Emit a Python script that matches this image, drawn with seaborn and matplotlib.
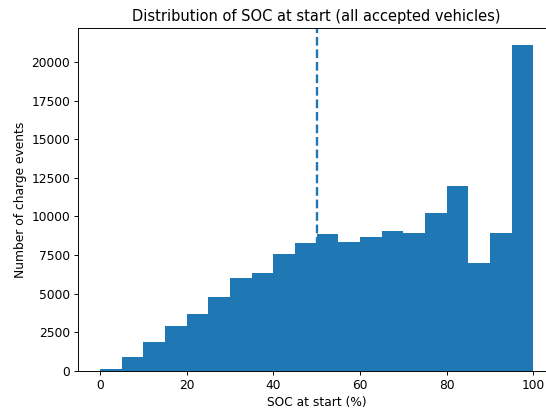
import numpy as np
import pandas as pd
import matplotlib
matplotlib.use("Agg")
import matplotlib.pyplot as plt
import seaborn as sns

# Histogram bins (SOC %, lower edges) and counts
bin_lower = [0, 5, 10, 15, 20, 25, 30, 35, 40, 45,
             50, 55, 60, 65, 70, 75, 80, 85, 90, 95]
counts = [130, 910, 1860, 2900, 3660, 4800, 6020, 6320, 7580, 8310,
          8850, 8350, 8680, 9030, 8960, 10240, 11950, 7010, 8920, 21150]
median_soc = 50

title = "Distribution of SOC at start (all accepted vehicles)"
xlabel = "SOC at start (%)"
ylabel = "Number of charge events"

df = pd.DataFrame({"soc": np.array(bin_lower) + 2.5, "n": counts})

plt.rcParams["font.size"] = 10.4
plt.rcParams["axes.titlesize"] = 12.4

dpi = 85
fig = plt.figure(figsize=(546 / dpi, 408 / dpi), dpi=dpi)
W, H = 546, 408
left, bottom_px, top_px = 78.4, 370.7, 28.2
right_px = 555.0
ax = fig.add_axes([left / W, 1 - bottom_px / H, (right_px - left) / W, (bottom_px - top_px) / H])

sns.histplot(data=df, x="soc", weights="n", binwidth=5, binrange=(0, 100),
             color="#1f77b4", alpha=1, edgecolor="none", linewidth=0, ax=ax)
ax.axvline(median_soc, color="#1f77b4", linestyle="--", linewidth=2)

ax.set_xlim(-5, 105)
ax.set_ylim(0, 21150 * 1.05)
ax.set_title(title)
ax.set_xlabel(xlabel, labelpad=3.5)
ax.set_ylabel(ylabel)

fig.savefig("out.png", dpi=dpi)
